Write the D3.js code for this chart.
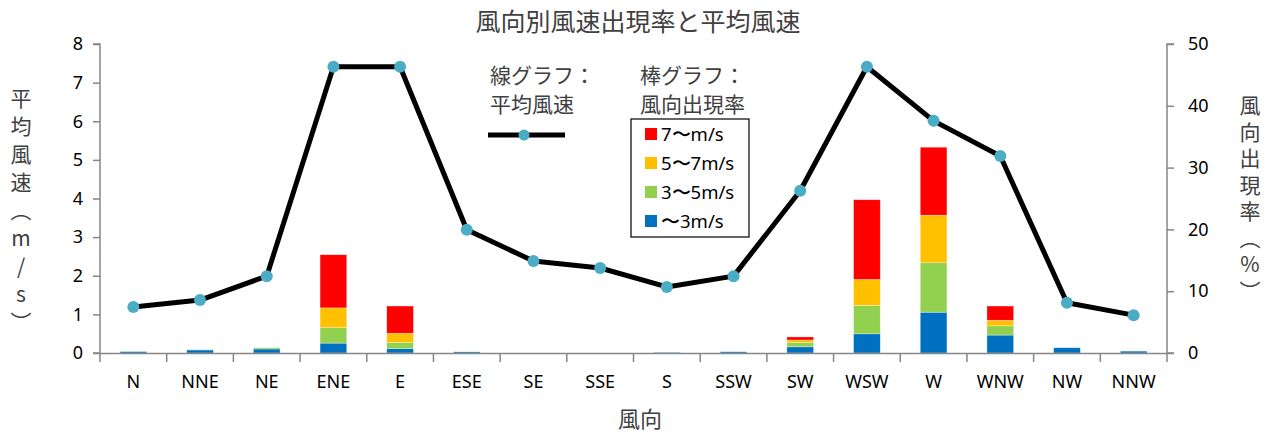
<!DOCTYPE html>
<html><head><meta charset="utf-8">
<script src="https://cdn.jsdelivr.net/npm/d3@7"></script>
<style>
body{margin:0;background:#fff;}
svg{display:block;font-family:"Noto Sans CJK JP","Noto Sans",sans-serif;}
.num{font-family:"Noto Sans","Open Sans",sans-serif;}
.vert{writing-mode:vertical-rl;text-orientation:upright;}
</style></head>
<body>
<script>
const categories = ["N","NNE","NE","ENE","E","ESE","SE","SSE","S","SSW","SW","WSW","W","WNW","NW","NNW"];
const avgSpeed = [1.19,1.37,1.99,7.41,7.41,3.19,2.38,2.2,1.71,1.99,4.2,7.41,6.01,5.1,1.3,0.98];
const pctUnder3 = [0.25,0.5,0.65,1.6,0.7,0.2,0,0,0.1,0.2,1.0,3.1,6.6,2.9,0.85,0.3];
const pct3to5 = [0.02,0.02,0.2,2.5,1.0,0.02,0,0,0,0,0.7,4.6,8.0,1.5,0,0];
const pct5to7 = [0,0,0,3.2,1.5,0,0,0,0,0,0.4,4.2,7.7,0.9,0,0];
const pctOver7 = [0,0,0,8.6,4.4,0,0,0,0,0,0.5,12.9,11.0,2.3,0,0];
const leftTicks = [0,1,2,3,4,5,6,7,8];
const rightTicks = [0,10,20,30,40,50];
const seriesNames = ["〜3m/s","3〜5m/s","5〜7m/s","7〜m/s"];
const seriesColors = ["#0070c0","#92d050","#ffc000","#ff0000"];

const W=1272,H=434;
const m={l:100,r:1167,t:44,b:353};
const svg=d3.select("body").append("svg").attr("width",W).attr("height",H);

const x=d3.scaleBand().domain(categories).range([m.l,m.r]).paddingInner(0.6).paddingOuter(0.3);
const xb=d3.scaleBand().domain(categories).range([m.l,m.r]);
const yL=d3.scaleLinear().domain([0,8]).range([m.b,m.t]);
const yR=d3.scaleLinear().domain([0,50]).range([m.b,m.t]);

// cut-off text at top (only its lower edge is visible in the reference)
svg.append("text").attr("x",300).attr("y",-2).attr("font-size",20).attr("fill","#404040").text("（速報値）");

// title
svg.append("text").attr("x",638).attr("y",31).attr("text-anchor","middle").attr("font-size",25).attr("fill","#404040").text("風向別風速出現率と平均風速");

// bars
const rows=categories.map((c,i)=>({cat:c,s0:pctUnder3[i],s1:pct3to5[i],s2:pct5to7[i],s3:pctOver7[i]}));
const stack=d3.stack().keys(["s0","s1","s2","s3"])(rows);
stack.forEach((layer,k)=>{
  svg.append("g").selectAll("rect").data(layer).join("rect")
    .attr("x",d=>x(d.data.cat)).attr("width",x.bandwidth())
    .attr("y",d=>yR(d[1])).attr("height",d=>Math.max(0,yR(d[0])-yR(d[1])))
    .attr("fill",seriesColors[k]).attr("stroke","#ffffff").attr("stroke-opacity",0.5).attr("stroke-width",0.6);
});

// axes
const axisColor="#868686";
const gL=svg.append("g").attr("transform",`translate(${m.l},0)`).call(d3.axisLeft(yL).tickValues(leftTicks).tickSize(7).tickPadding(10));
const gR=svg.append("g").attr("transform",`translate(${m.r},0)`).call(d3.axisRight(yR).tickValues(rightTicks).tickSize(7).tickPadding(14));
const gX=svg.append("g").attr("transform",`translate(0,${m.b})`).call(d3.axisBottom(xb).tickSize(0).tickPadding(22));
svg.append("g").selectAll("line").data(d3.range(categories.length+1)).join("line")
  .attr("x1",i=>m.l+i*xb.step()).attr("x2",i=>m.l+i*xb.step()).attr("y1",m.b).attr("y2",m.b+9).attr("stroke",axisColor).attr("stroke-width",1.5);
[gL,gR,gX].forEach(g=>{
  g.selectAll("path").attr("stroke",axisColor).attr("stroke-width",1.5);
  g.selectAll("line").attr("stroke",axisColor).attr("stroke-width",1.5);
  g.selectAll("text").attr("class","num").attr("font-size",18).attr("fill","#000");
});
gL.select("path").attr("d",`M-7,${m.t}H0V${m.b}H-7`);
gR.select("path").attr("d",`M7,${m.t}H0V${m.b}H7`);

// line
const line=d3.line().x((d,i)=>xb(categories[i])+xb.bandwidth()/2).y(d=>yL(d));
svg.append("path").datum(avgSpeed).attr("d",line).attr("fill","none").attr("stroke","#000").attr("stroke-width",5).attr("stroke-linejoin","round");
svg.append("g").selectAll("circle").data(avgSpeed).join("circle")
  .attr("cx",(d,i)=>xb(categories[i])+xb.bandwidth()/2).attr("cy",d=>yL(d)).attr("r",6).attr("fill","#4bacc6");

// axis titles (vertical writing)
svg.append("text").attr("class","vert").attr("x",21).attr("y",88).attr("font-size",21).attr("letter-spacing",7).attr("fill","#404040").text("平均風速（m/s）");
svg.append("text").attr("class","vert").attr("x",1250).attr("y",95).attr("font-size",21).attr("letter-spacing",5.5).attr("fill","#404040").text("風向出現率（%）");
svg.append("text").attr("x",640).attr("y",427).attr("text-anchor","middle").attr("font-size",22).attr("fill","#404040").text("風向");

// legend
svg.append("text").attr("x",490).attr("y",83).attr("font-size",21).attr("fill","#404040").text("線グラフ：");
svg.append("text").attr("x",490).attr("y",112).attr("font-size",21).attr("fill","#404040").text("平均風速");
svg.append("line").attr("x1",488).attr("x2",565).attr("y1",135).attr("y2",135).attr("stroke","#000").attr("stroke-width",5);
svg.append("circle").attr("cx",524).attr("cy",135).attr("r",5.5).attr("fill","#4bacc6");
svg.append("text").attr("x",640).attr("y",83).attr("font-size",21).attr("fill","#404040").text("棒グラフ：");
svg.append("text").attr("x",640).attr("y",112).attr("font-size",21).attr("fill","#404040").text("風向出現率");
svg.append("rect").attr("x",631).attr("y",119).attr("width",118).attr("height",118).attr("fill","#fff").attr("stroke","#000").attr("stroke-width",1.2);
const legOrder=[3,2,1,0];
legOrder.forEach((k,i)=>{
  const yy=134+i*29;
  svg.append("rect").attr("x",645).attr("y",yy-6).attr("width",12).attr("height",12).attr("fill",seriesColors[k]);
  svg.append("text").attr("class","num").attr("x",661).attr("y",yy+7).attr("font-size",18.5).attr("fill","#000").text(seriesNames[k]);
});
</script>
</body></html>
